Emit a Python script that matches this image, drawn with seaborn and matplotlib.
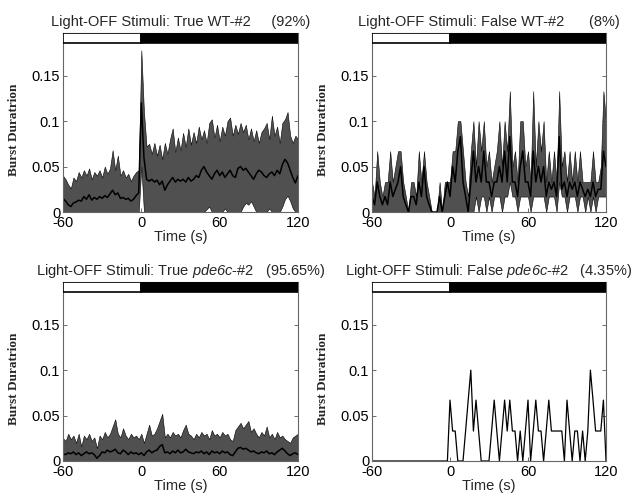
import numpy as np
import pandas as pd
import matplotlib
matplotlib.use("Agg")
import matplotlib.pyplot as plt
from matplotlib.patches import Rectangle
import seaborn as sns

# ---------------- data ----------------
time_s = np.arange(-60, 121, 2)

light_start = [-60, 0]
light_end = [0, 120]
light_color = ["white", "black"]

wt_true_upper = [0.040, 0.036, 0.030, 0.026, 0.038, 0.034, 0.044, 0.038, 0.046, 0.040,
                 0.048, 0.036, 0.044, 0.040, 0.046, 0.038, 0.050, 0.042, 0.048, 0.068,
                 0.046, 0.062, 0.040, 0.046, 0.038, 0.042, 0.034, 0.040, 0.044, 0.046,
                 0.178, 0.110, 0.072, 0.075, 0.064, 0.076, 0.062, 0.074, 0.058, 0.076,
                 0.064, 0.080, 0.092, 0.066, 0.082, 0.068, 0.087, 0.072, 0.092, 0.074,
                 0.088, 0.076, 0.094, 0.080, 0.090, 0.076, 0.098, 0.102, 0.082, 0.096,
                 0.078, 0.094, 0.084, 0.100, 0.104, 0.084, 0.096, 0.086, 0.098, 0.088,
                 0.096, 0.080, 0.092, 0.078, 0.090, 0.076, 0.088, 0.092, 0.098, 0.080,
                 0.106, 0.084, 0.094, 0.076, 0.098, 0.102, 0.110, 0.084, 0.076, 0.084,
                 0.080]
wt_true_mean = [0.015, 0.012, 0.008, 0.006, 0.010, 0.011, 0.013, 0.012, 0.017, 0.014,
                0.019, 0.013, 0.016, 0.014, 0.017, 0.015, 0.018, 0.016, 0.020, 0.024,
                0.019, 0.021, 0.015, 0.016, 0.014, 0.015, 0.012, 0.014, 0.018, 0.021,
                0.120, 0.060, 0.036, 0.034, 0.036, 0.033, 0.035, 0.030, 0.034, 0.024,
                0.030, 0.034, 0.038, 0.033, 0.036, 0.034, 0.036, 0.033, 0.038, 0.034,
                0.036, 0.040, 0.038, 0.046, 0.050, 0.044, 0.040, 0.036, 0.042, 0.046,
                0.040, 0.044, 0.038, 0.042, 0.046, 0.040, 0.038, 0.048, 0.050, 0.046,
                0.048, 0.044, 0.040, 0.036, 0.042, 0.046, 0.044, 0.040, 0.038, 0.042,
                0.044, 0.040, 0.046, 0.042, 0.052, 0.058, 0.054, 0.046, 0.038, 0.032,
                0.040]
wt_true_lower = ([0.0] * 30 +
                 [0.050, 0.0, 0.0, 0.0, 0.0, 0.0, 0.0, 0.0, 0.0, 0.0,
                  0.0, 0.0, 0.0, 0.0, 0.0, 0.0, 0.0, 0.0, 0.0, 0.0,
                  0.0, 0.0, 0.0, 0.0, 0.0, 0.003, 0.006, 0.0, 0.0, 0.0,
                  0.0, 0.0, 0.004, 0.0, 0.0, 0.0, 0.0, 0.0, 0.0, 0.006,
                  0.010, 0.008, 0.012, 0.006, 0.0, 0.0, 0.0, 0.0, 0.0, 0.004,
                  0.0, 0.0, 0.0, 0.0, 0.006, 0.014, 0.018, 0.012, 0.004, 0.0,
                  0.0])

wt_false_upper = [0.033, 0.017, 0.067, 0.033, 0.017, 0.033, 0.033, 0.067, 0.033, 0.050,
                  0.067, 0.067, 0.033, 0.017, 0.000, 0.033, 0.033, 0.017, 0.067, 0.033,
                  0.067, 0.033, 0.017, 0.000, 0.000, 0.000, 0.033, 0.000, 0.033, 0.033,
                  0.033, 0.067, 0.067, 0.100, 0.100, 0.067, 0.033, 0.017, 0.067, 0.100,
                  0.050, 0.100, 0.067, 0.100, 0.050, 0.067, 0.033, 0.050, 0.067, 0.100,
                  0.050, 0.100, 0.067, 0.133, 0.050, 0.067, 0.033, 0.100, 0.100, 0.050,
                  0.067, 0.033, 0.133, 0.050, 0.100, 0.067, 0.100, 0.033, 0.067, 0.033,
                  0.067, 0.033, 0.133, 0.050, 0.067, 0.033, 0.067, 0.033, 0.067, 0.033,
                  0.067, 0.033, 0.033, 0.033, 0.033, 0.067, 0.033, 0.033, 0.050, 0.133,
                  0.100]
wt_false_mean = [0.017, 0.008, 0.033, 0.017, 0.008, 0.017, 0.008, 0.033, 0.017, 0.025,
                 0.033, 0.050, 0.017, 0.008, 0.000, 0.017, 0.017, 0.008, 0.033, 0.017,
                 0.050, 0.017, 0.008, 0.000, 0.000, 0.000, 0.017, 0.000, 0.017, 0.033,
                 0.017, 0.050, 0.033, 0.067, 0.083, 0.033, 0.017, 0.000, 0.033, 0.067,
                 0.033, 0.050, 0.033, 0.067, 0.033, 0.033, 0.017, 0.033, 0.033, 0.050,
                 0.033, 0.067, 0.033, 0.083, 0.033, 0.033, 0.017, 0.050, 0.067, 0.033,
                 0.033, 0.017, 0.067, 0.033, 0.050, 0.033, 0.050, 0.017, 0.033, 0.025,
                 0.033, 0.017, 0.083, 0.025, 0.033, 0.017, 0.033, 0.025, 0.033, 0.017,
                 0.033, 0.025, 0.017, 0.025, 0.017, 0.033, 0.017, 0.025, 0.025, 0.067,
                 0.050]
wt_false_lower = ([0.0] * 30 +
                  [0.0, 0.0, 0.0, 0.0, 0.0, 0.0, 0.0, 0.0, 0.0, 0.0,
                   0.017, 0.0, 0.017, 0.017, 0.0, 0.017, 0.0, 0.017, 0.017, 0.017,
                   0.0, 0.017, 0.017, 0.033, 0.017, 0.017, 0.0, 0.017, 0.017, 0.017,
                   0.017, 0.0, 0.017, 0.017, 0.017, 0.017, 0.017, 0.0, 0.017, 0.017,
                   0.017, 0.0, 0.033, 0.017, 0.017, 0.0, 0.017, 0.017, 0.017, 0.0,
                   0.017, 0.017, 0.0, 0.017, 0.0, 0.017, 0.0, 0.017, 0.017, 0.017,
                   0.017])

pde_true_upper = [0.025, 0.022, 0.030, 0.024, 0.028, 0.020, 0.030, 0.016, 0.028, 0.024,
                  0.030, 0.022, 0.026, 0.014, 0.028, 0.024, 0.032, 0.026, 0.030, 0.038,
                  0.046, 0.030, 0.026, 0.036, 0.028, 0.024, 0.030, 0.026, 0.028, 0.024,
                  0.030, 0.020, 0.030, 0.040, 0.028, 0.030, 0.036, 0.044, 0.052, 0.026,
                  0.030, 0.026, 0.032, 0.028, 0.030, 0.026, 0.034, 0.040, 0.030, 0.028,
                  0.024, 0.030, 0.026, 0.032, 0.028, 0.030, 0.024, 0.034, 0.028, 0.030,
                  0.026, 0.032, 0.028, 0.030, 0.024, 0.022, 0.034, 0.038, 0.042, 0.036,
                  0.040, 0.044, 0.032, 0.036, 0.030, 0.026, 0.032, 0.028, 0.038, 0.026,
                  0.030, 0.024, 0.032, 0.026, 0.028, 0.024, 0.022, 0.020, 0.026, 0.028,
                  0.030]
pde_true_mean = [0.008, 0.007, 0.009, 0.008, 0.010, 0.007, 0.009, 0.006, 0.008, 0.010,
                 0.008, 0.009, 0.007, 0.003, 0.006, 0.010, 0.009, 0.012, 0.010, 0.011,
                 0.013, 0.009, 0.008, 0.012, 0.010, 0.007, 0.010, 0.008, 0.009, 0.007,
                 0.009, 0.006, 0.010, 0.012, 0.009, 0.011, 0.012, 0.016, 0.018, 0.009,
                 0.010, 0.008, 0.011, 0.009, 0.012, 0.009, 0.010, 0.013, 0.010, 0.009,
                 0.008, 0.010, 0.009, 0.011, 0.008, 0.010, 0.007, 0.011, 0.009, 0.010,
                 0.008, 0.011, 0.009, 0.010, 0.007, 0.006, 0.010, 0.014, 0.015, 0.013,
                 0.014, 0.012, 0.010, 0.011, 0.009, 0.008, 0.010, 0.009, 0.011, 0.008,
                 0.009, 0.007, 0.010, 0.012, 0.014, 0.011, 0.008, 0.006, 0.008, 0.009,
                 0.007]
pde_true_lower = [0.0] * 91

pde_false = ([0.0] * 30 +
             [0.067, 0.033, 0.033, 0.0, 0.0, 0.0, 0.033, 0.067, 0.100, 0.033,
              0.067, 0.033, 0.0, 0.0, 0.0, 0.0, 0.033, 0.067, 0.033, 0.0,
              0.033, 0.067, 0.033, 0.067, 0.033, 0.033, 0.0, 0.033, 0.0, 0.033,
              0.067, 0.0, 0.033, 0.067, 0.033, 0.033, 0.0, 0.033, 0.067, 0.033,
              0.033, 0.033, 0.033, 0.033, 0.0, 0.067, 0.033, 0.0, 0.033, 0.033,
              0.0, 0.033, 0.0, 0.033, 0.100, 0.067, 0.033, 0.033, 0.033, 0.067,
              0.0])

titles = ["Light-OFF Stimuli: True WT-#2     (92%)",
          "Light-OFF Stimuli: False WT-#2      (8%)",
          "Light-OFF Stimuli: True $\\mathit{pde6c}$-#2   (95.65%)",
          "Light-OFF Stimuli: False $\\mathit{pde6c}$-#2   (4.35%)"]
x_ticks = [-60, 0, 60, 120]
y_ticks = [0, 0.05, 0.1, 0.15]
y_ticklabels = ["0", "0.05", "0.1", "0.15"]

# ---------------- style ----------------
sns.set_style("ticks")
plt.rcParams["font.family"] = ["Liberation Sans", "DejaVu Sans"]
plt.rcParams["mathtext.fontset"] = "custom"
plt.rcParams["mathtext.rm"] = "Liberation Sans:italic"
plt.rcParams["mathtext.it"] = "Liberation Sans:italic"
plt.rcParams["axes.unicode_minus"] = False

fig = plt.figure(figsize=(6.37, 4.99), dpi=100)
W, H = 637, 499
def pos(l, r, b, t):
    return [l / W, (H - b) / H, (r - l) / W, (b - t) / H]

axes = [fig.add_axes(pos(63, 298, 212, 33)),
        fig.add_axes(pos(372, 606, 212, 33)),
        fig.add_axes(pos(63, 298, 461, 282)),
        fig.add_axes(pos(372, 606, 461, 282))]

panels = [
    (wt_true_upper, wt_true_mean, wt_true_lower),
    (wt_false_upper, wt_false_mean, wt_false_lower),
    (pde_true_upper, pde_true_mean, pde_true_lower),
    (None, pde_false, None),
]

band_color = "#505050"
ymax = 0.197
bar_lo = 0.186

for ax, (up, mean, lo), title in zip(axes, panels, titles):
    df = pd.DataFrame({"t": time_s, "mean": mean})
    if up is not None:
        ax.fill_between(time_s, lo, up, facecolor=band_color, edgecolor="black",
                        linewidth=0.4, zorder=1)
        sns.lineplot(data=df, x="t", y="mean", ax=ax, color="black", linewidth=1.1,
                     zorder=2, legend=False)
    else:
        sns.lineplot(data=df, x="t", y="mean", ax=ax, color="black", linewidth=0.9,
                     zorder=2, legend=False)
    for s, e, c in zip(light_start, light_end, light_color):
        ax.add_patch(Rectangle((s, bar_lo), e - s, ymax - bar_lo, facecolor=c,
                               edgecolor="black", linewidth=1.2, zorder=5))
    ax.set_xlim(-60, 120)
    ax.set_ylim(0, ymax)
    ax.set_xticks(x_ticks)
    ax.set_xticklabels([str(v) for v in x_ticks])
    ax.set_yticks(y_ticks)
    ax.set_yticklabels(y_ticklabels)
    ax.tick_params(direction="in", length=3, width=0.6, labelsize=10.5,
                   right=True, top=False, pad=2, colors="#555555", labelcolor="black")
    ax.tick_params(axis="x", pad=3.2)
    for sp in ax.spines.values():
        sp.set_color("#666666")
        sp.set_linewidth(0.8)
        sp.set_visible(True)
    ax.set_xlabel("Time (s)", fontsize=10.5, labelpad=0)
    ax.set_ylabel("Burst Duratrion", fontsize=9.5, fontfamily="Liberation Serif",
                  fontweight="bold")
    ax.yaxis.set_label_coords(-0.185, 0.46)
    ax.set_title(title, fontsize=10.5, pad=5)

fig.savefig("out.png", dpi=100)
